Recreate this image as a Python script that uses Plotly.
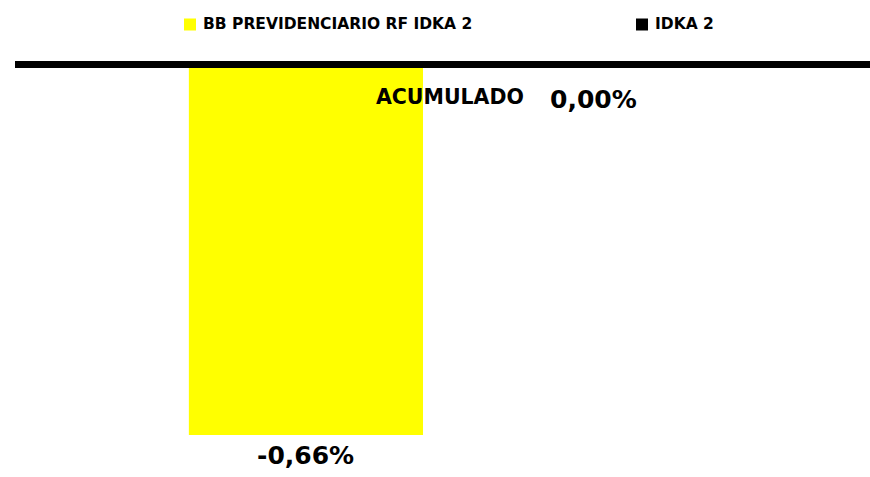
import plotly.graph_objects as go

categories = ["ACUMULADO"]
series_names = ["BB PREVIDENCIARIO RF IDKA 2", "IDKA 2"]
series_values = [[-0.66], [0.00]]
series_colors = ["#FFFF00", "#000000"]

W, H = 870, 477
ML, MR, MT, MB = 15, 0, 40, 0
PW, PH = W - ML - MR, H - MT - MB

def px(x):
    return (x - ML) / PW

def py(y):
    return (H - y) / PH

FONT = "DejaVu Sans"

def fmt(v):
    return f"{v:.2f}".replace(".", ",") + "%"

fig = go.Figure()
for name, vals, col in zip(series_names, series_values, series_colors):
    fig.add_trace(go.Bar(x=categories, y=vals, name=name, marker_color=col,
                         marker_line_width=0, showlegend=False, hoverinfo="skip"))

# value labels below each bar end
offsets = [-144, 144]
yshifts = [-4, -19]
for vals, off, ys in zip(series_values, offsets, yshifts):
    for c, v in zip(categories, vals):
        fig.add_annotation(x=c, y=v, xref="x", yref="y", text=f"<b>{fmt(v)}</b>",
                           showarrow=False, xshift=off, yshift=ys, yanchor="top",
                           font=dict(family=FONT, size=25, color="black"))

# zero line
fig.add_shape(type="line", xref="paper", yref="y", x0=0, x1=1, y0=0, y1=0,
              line=dict(color="black", width=7), layer="above")

# legend (squares + names)
leg_x = [184, 636]
for name, col, lx in zip(series_names, series_colors, leg_x):
    fig.add_shape(type="rect", xref="paper", yref="paper",
                  x0=px(lx), x1=px(lx + 12), y0=py(30.5), y1=py(18.5),
                  fillcolor=col, line_width=0)
    fig.add_annotation(xref="paper", yref="paper", x=px(lx + 17), y=py(24.5),
                       xanchor="left", yanchor="middle", showarrow=False,
                       text=f"<b>{name}</b>",
                       font=dict(family=FONT, size=15.5, color="black"))

fig.update_layout(
    width=W, height=H,
    margin=dict(l=ML, r=MR, t=MT, b=MB),
    paper_bgcolor="white", plot_bgcolor="white",
    barmode="group", bargap=0.3263, bargroupgap=0.187,
    hovermode=False,
    xaxis=dict(range=[-0.5087, 0.4913], showgrid=False, zeroline=False,
               showline=False, ticks="", anchor="free", position=py(82),
               tickfont=dict(family=FONT, size=20.5, color="black"),
               tickprefix="<b>", ticksuffix="</b>", fixedrange=True),
    yaxis=dict(range=[-0.7348, 0.0436], showgrid=False, zeroline=False,
               showticklabels=False, showline=False, fixedrange=True),
)

fig.write_html("out.html", config={"displayModeBar": False},
               post_script="document.body.style.margin='0';document.body.style.overflow='hidden';")
